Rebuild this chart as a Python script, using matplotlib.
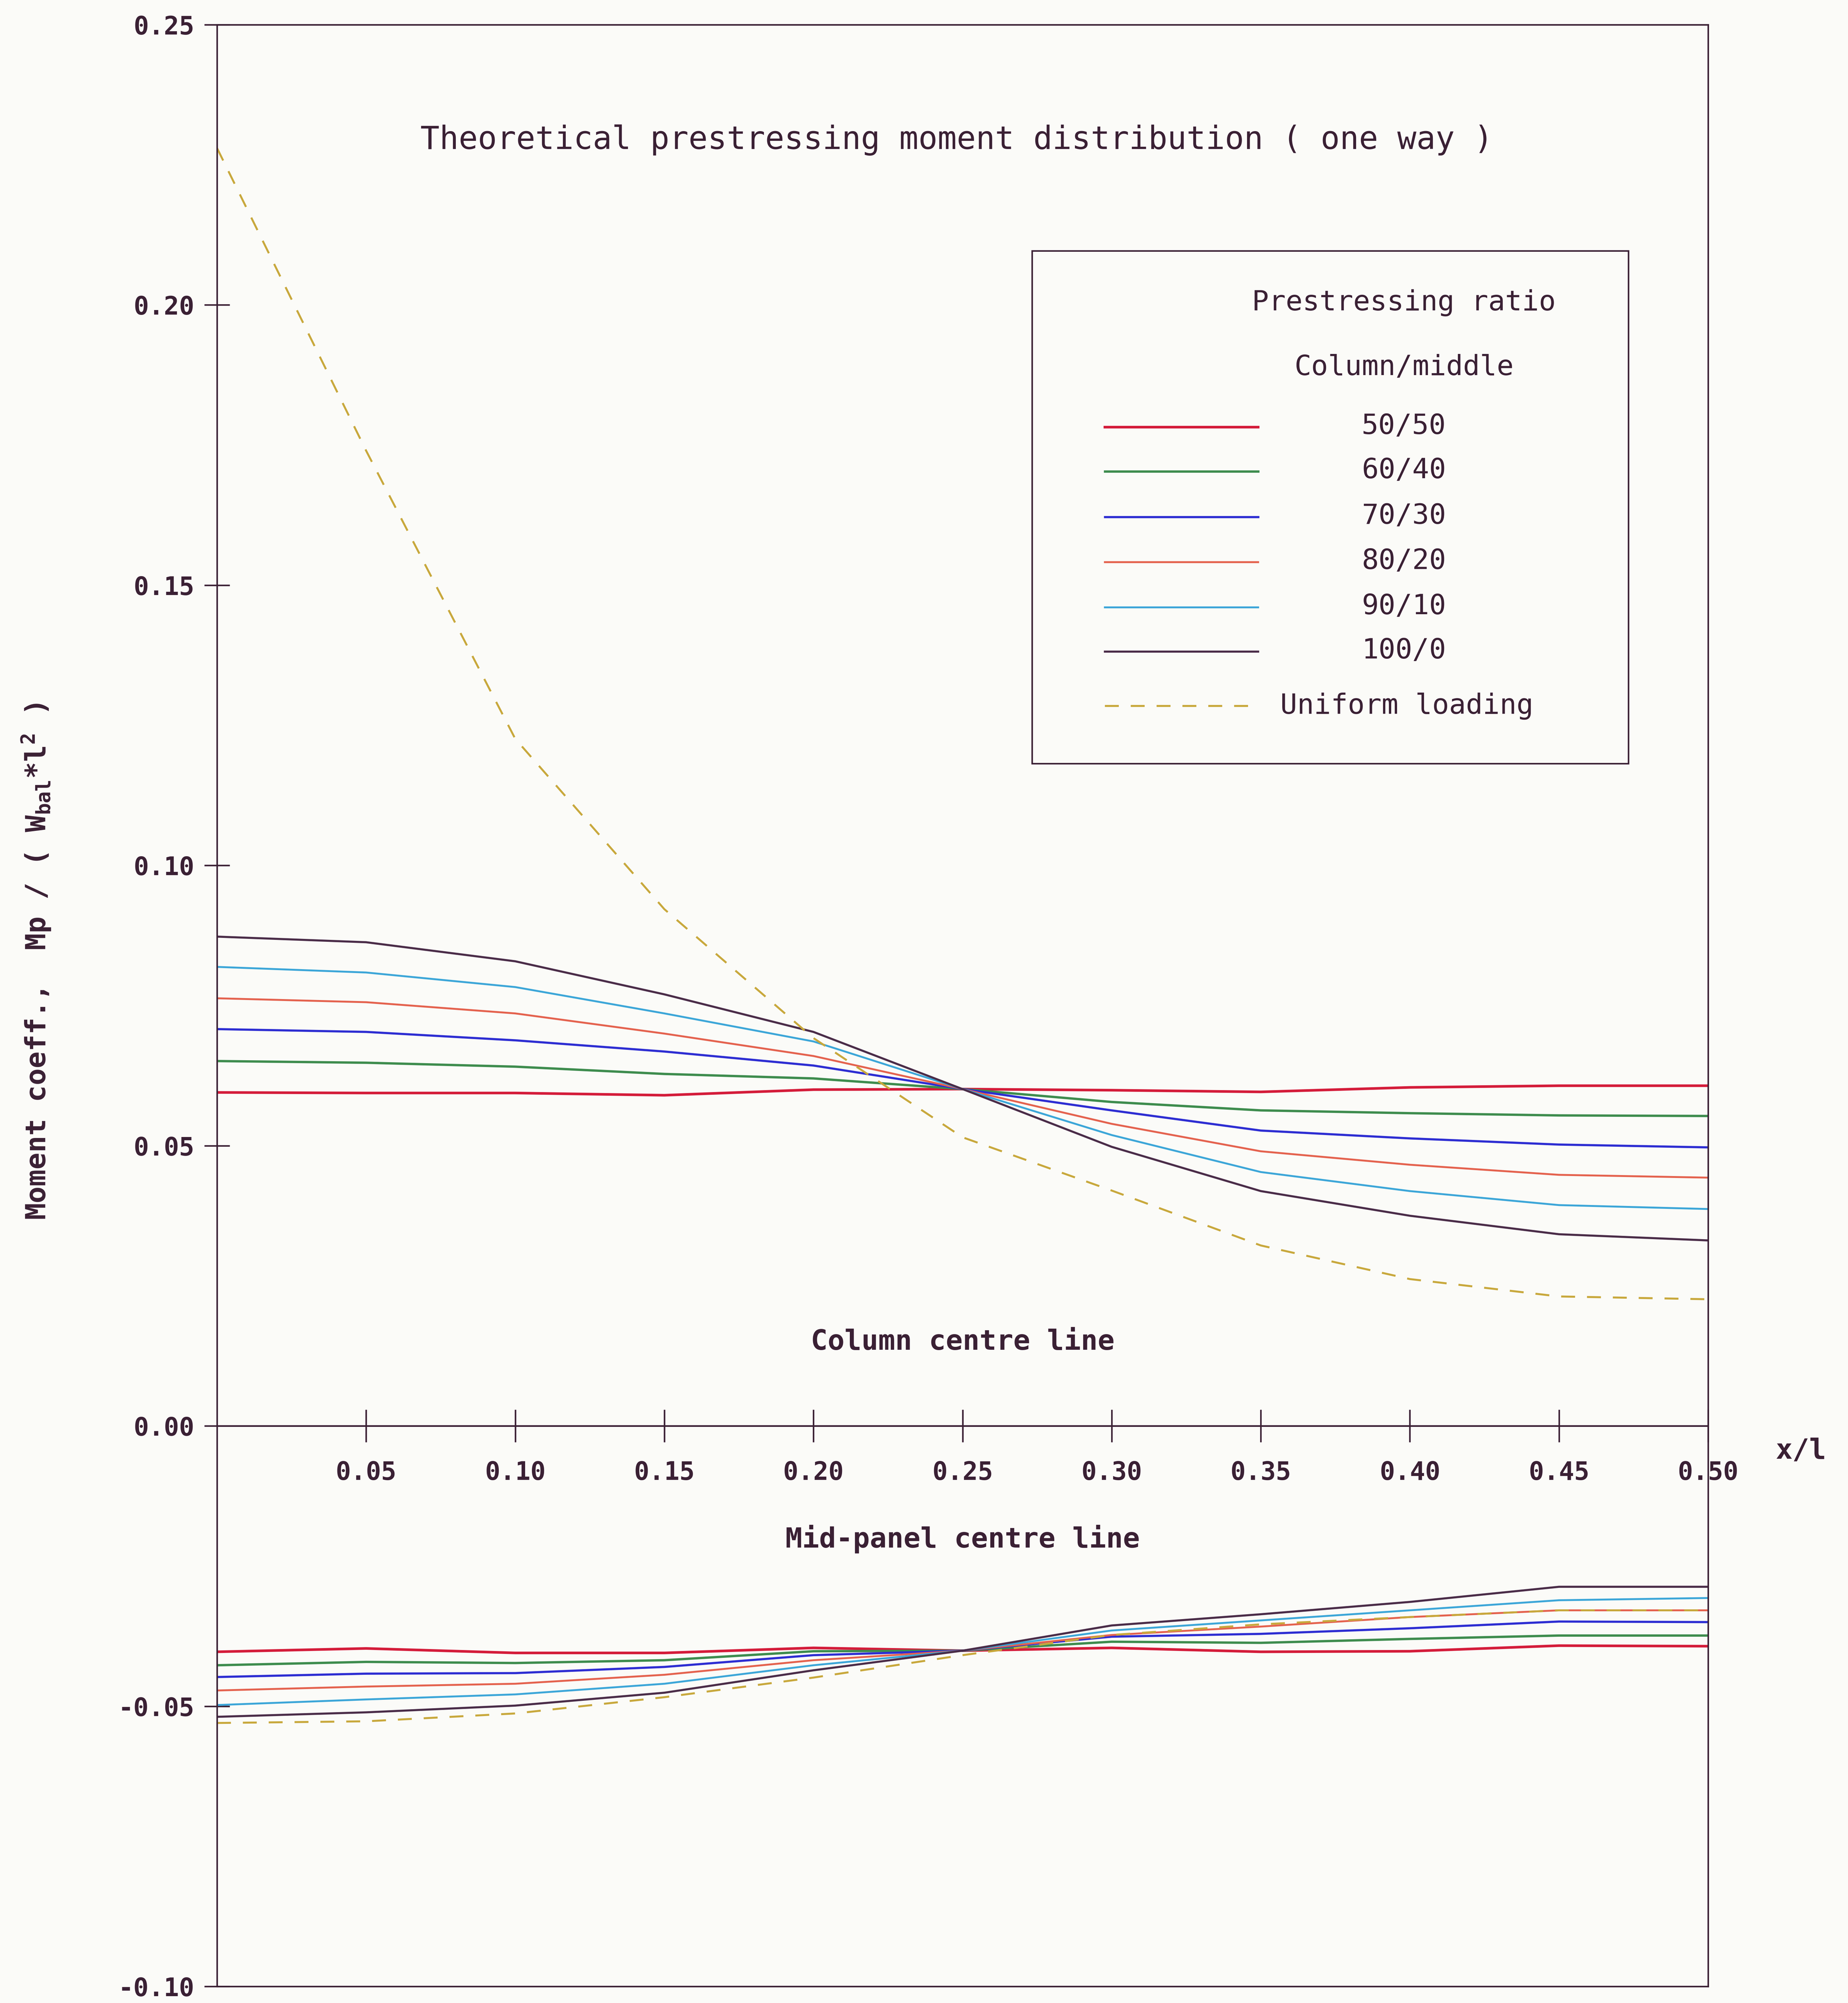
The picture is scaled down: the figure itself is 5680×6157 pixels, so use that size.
import matplotlib
matplotlib.use("Agg")
import matplotlib.pyplot as plt
from matplotlib.lines import Line2D
from matplotlib.patches import Rectangle

# ---------------- data ----------------
x_over_l = [0.00, 0.05, 0.10, 0.15, 0.20, 0.25, 0.30, 0.35, 0.40, 0.45, 0.50]

ratio_labels = ["50/50", "60/40", "70/30", "80/20", "90/10", "100/0"]
uniform_label = "Uniform loading"

# column centre line (upper family)
col_50_50 = [0.0595, 0.0594, 0.0594, 0.0590, 0.0600, 0.0601, 0.0599, 0.0596, 0.0604, 0.0607, 0.0607]
col_60_40 = [0.0651, 0.0648, 0.0641, 0.0628, 0.0620, 0.0601, 0.0578, 0.0563, 0.0558, 0.0554, 0.0553]
col_70_30 = [0.0708, 0.0703, 0.0688, 0.0668, 0.0643, 0.0601, 0.0563, 0.0527, 0.0513, 0.0502, 0.0497]
col_80_20 = [0.0763, 0.0756, 0.0736, 0.0700, 0.0660, 0.0601, 0.0539, 0.0490, 0.0466, 0.0448, 0.0443]
col_90_10 = [0.0819, 0.0809, 0.0783, 0.0736, 0.0686, 0.0601, 0.0519, 0.0453, 0.0419, 0.0394, 0.0387]
col_100_0 = [0.0873, 0.0863, 0.0829, 0.0770, 0.0703, 0.0601, 0.0498, 0.0419, 0.0375, 0.0342, 0.0331]
col_uniform = [0.2280, 0.1740, 0.1226, 0.0922, 0.0692, 0.0515, 0.0420, 0.0322, 0.0262, 0.0231, 0.0226]

# mid-panel centre line (lower family)
mid_50_50 = [-0.0403, -0.0397, -0.0405, -0.0405, -0.0396, -0.0401, -0.0396, -0.0403, -0.0402, -0.0392, -0.0393]
mid_60_40 = [-0.0427, -0.0421, -0.0423, -0.0418, -0.0402, -0.0401, -0.0385, -0.0387, -0.0380, -0.0374, -0.0374]
mid_70_30 = [-0.0448, -0.0442, -0.0441, -0.0430, -0.0409, -0.0401, -0.0376, -0.0371, -0.0361, -0.0349, -0.0350]
mid_80_20 = [-0.0472, -0.0465, -0.0460, -0.0444, -0.0418, -0.0401, -0.0373, -0.0358, -0.0341, -0.0329, -0.0329]
mid_90_10 = [-0.0498, -0.0488, -0.0479, -0.0460, -0.0427, -0.0401, -0.0365, -0.0347, -0.0329, -0.0311, -0.0307]
mid_100_0 = [-0.0519, -0.0511, -0.0499, -0.0476, -0.0436, -0.0401, -0.0356, -0.0336, -0.0314, -0.0287, -0.0287]
mid_uniform = [-0.0530, -0.0527, -0.0513, -0.0484, -0.0449, -0.0409, -0.0373, -0.0354, -0.0341, -0.0329, -0.0329]

x_ticks = [0.05, 0.10, 0.15, 0.20, 0.25, 0.30, 0.35, 0.40, 0.45, 0.50]
x_tick_labels = ["0.05", "0.10", "0.15", "0.20", "0.25", "0.30", "0.35", "0.40", "0.45", "0.50"]
y_ticks = [-0.10, -0.05, 0.00, 0.05, 0.10, 0.15, 0.20, 0.25]
y_tick_labels = ["-0.10", "-0.05", "0.00", "0.05", "0.10", "0.15", "0.20", "0.25"]

title_text = "Theoretical prestressing moment distribution ( one way )"
ylabel_text = r"Moment coeff.,  Mp / ( W$_{\mathregular{bal}}$*l$^{\mathregular{2}}$ )"

# ---------------- style ----------------
BG = "#fbfbf8"
INK = "#3a2034"
series_colors = ["#d41c3a", "#3e8c4e", "#2d2dd2", "#e4624e", "#3ca6d8", "#4a2c48"]
series_lw = [1.45, 1.3, 1.2, 1.05, 1.05, 1.15]
uniform_color = "#c8a83c"
uniform_lw = 1.1
dash = (0, (7, 6))
MONO = "DejaVu Sans Mono"

plt.rcParams["font.family"] = [MONO, "DejaVu Sans"]

W, H, DPI = 5680, 6157, 400
fig = plt.figure(figsize=(W / DPI, H / DPI), dpi=DPI, facecolor=BG)


def fx(px):
    return px / W


def fy(py):
    return 1 - py / H


ax_left, ax_right, ax_top, ax_bot = 667, 5250, 76, 6106
ax = fig.add_axes([fx(ax_left), fy(ax_bot), fx(ax_right) - fx(ax_left), fy(ax_top) - fy(ax_bot)])
ax.set_facecolor(BG)
ax.set_xlim(0, 0.5)
ax.set_ylim(-0.10, 0.25)

# frame and axis
for s in ["left", "top", "right"]:
    ax.spines[s].set_color(INK)
    ax.spines[s].set_linewidth(0.85)
ax.spines["bottom"].set_position(("data", 0.0))
ax.spines["bottom"].set_color(INK)
ax.spines["bottom"].set_linewidth(0.9)
ax.axhline(-0.10, color=INK, lw=0.85, clip_on=False, zorder=3)

ax.set_xticks(x_ticks)
ax.set_xticklabels(x_tick_labels)
ax.set_yticks(y_ticks)
ax.set_yticklabels(y_tick_labels)
ax.tick_params(axis="x", direction="inout", length=18, width=0.85, color=INK,
               pad=10, labelsize=14, labelcolor=INK)
ax.tick_params(axis="y", direction="inout", length=14, width=0.85, color=INK,
               pad=5.5, labelsize=14, labelcolor=INK)
for lab in ax.get_xticklabels() + ax.get_yticklabels():
    lab.set_fontweight("bold")

# curves
col_series = [col_50_50, col_60_40, col_70_30, col_80_20, col_90_10, col_100_0]
mid_series = [mid_50_50, mid_60_40, mid_70_30, mid_80_20, mid_90_10, mid_100_0]
for ys, c, lw in zip(col_series, series_colors, series_lw):
    ax.plot(x_over_l, ys, color=c, lw=lw, solid_joinstyle="round")
for ys, c, lw in zip(mid_series, series_colors, series_lw):
    ax.plot(x_over_l, ys, color=c, lw=lw, solid_joinstyle="round")
ax.plot(x_over_l, col_uniform, color=uniform_color, lw=uniform_lw, linestyle=dash)
ax.plot(x_over_l, mid_uniform, color=uniform_color, lw=uniform_lw, linestyle=dash)

# texts
fig.text(fx(2940), fy(457), title_text, ha="center", va="baseline",
         fontsize=17.6, color=INK, family=MONO)
fig.text(fx(2959), fy(4149), "Column centre line", ha="center", va="baseline",
         fontsize=15.5, color=INK, family=MONO, fontweight="bold")
fig.text(fx(2959), fy(4757), "Mid-panel centre line", ha="center", va="baseline",
         fontsize=15.5, color=INK, family=MONO, fontweight="bold")
fig.text(fx(5536), fy(4484), "x/l", ha="center", va="baseline",
         fontsize=15.5, color=INK, family=MONO, fontweight="bold")
fig.text(fx(112), fy(2955), ylabel_text, ha="center", va="center", rotation=90,
         fontsize=15.5, color=INK, family=MONO, fontweight="bold")

# legend box (drawn manually to reproduce the plotter layout)
lx0, lx1, ly0, ly1 = 3172, 5005, 771, 2347
fig.add_artist(Rectangle((fx(lx0), fy(ly1)), fx(lx1) - fx(lx0), fy(ly0) - fy(ly1),
                         transform=fig.transFigure, fill=False, edgecolor=INK, lw=0.85))
fig.text(fx(4315), fy(954), "Prestressing ratio", ha="center", va="baseline",
         fontsize=15.5, color=INK, family=MONO)
fig.text(fx(4315), fy(1153), "Column/middle", ha="center", va="baseline",
         fontsize=15.5, color=INK, family=MONO)
row_y = [1313, 1449, 1589, 1728, 1867, 2003]
for ry, lab, c, lw in zip(row_y, ratio_labels, series_colors, series_lw):
    fig.add_artist(Line2D([fx(3396), fx(3867)], [fy(ry), fy(ry)], transform=fig.transFigure,
                          color=c, lw=lw))
    fig.text(fx(4315), fy(ry + 21), lab, ha="center", va="baseline",
             fontsize=15.5, color=INK, family=MONO)
fig.add_artist(Line2D([fx(3396), fx(3867)], [fy(2170), fy(2170)], transform=fig.transFigure,
                      color=uniform_color, lw=uniform_lw, linestyle=dash))
fig.text(fx(3935), fy(2194), uniform_label, ha="left", va="baseline",
         fontsize=15.5, color=INK, family=MONO)

fig.savefig("out.png", dpi=DPI, facecolor=BG)
